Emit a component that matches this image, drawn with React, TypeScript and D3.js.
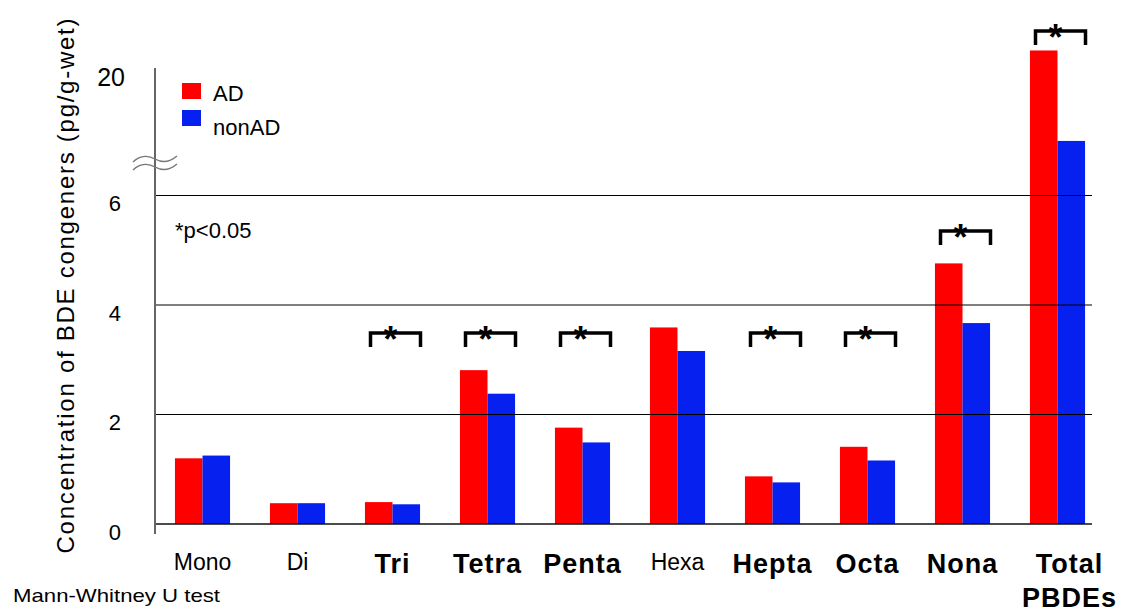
import React from 'react';
import * as d3 from 'd3';

// BDE congener concentrations, AD vs nonAD (pg/g-wet)
const categories = ['Mono', 'Di', 'Tri', 'Tetra', 'Penta', 'Hexa', 'Hepta', 'Octa', 'Nona', 'Total PBDEs'];
const seriesNames = ['AD', 'nonAD'];
const adValues = [1.2, 0.38, 0.4, 2.81, 1.76, 3.59, 0.87, 1.41, 4.76, 21.6];
const nonAdValues = [1.25, 0.38, 0.36, 2.38, 1.49, 3.16, 0.76, 1.16, 3.67, 15.7];
const significant = ['Tri', 'Tetra', 'Penta', 'Hepta', 'Octa', 'Nona', 'Total PBDEs'];
const bracketLevels = [3.49, 3.49, 3.49, 3.49, 3.49, 5.35, 22.87];
const yTicks = [0, 2, 4, 6, 20];
const gridValues = [2, 4, 6];

const colors: Record<string, string> = { AD: '#ff0000', nonAD: '#0620f0' };
const font = '"Liberation Sans", Arial, sans-serif';

const W = 1123;
const H = 612;
const left = 155;
const right = 1092;

export default function App() {
  // broken axis: 0-6 linear, compressed gap, then 14-20+
  const y = d3.scaleLinear().domain([0, 6, 14, 20]).range([524, 195.5, 167, 75]);
  const x0 = d3.scaleBand<string>().domain(categories).range([155, 1105]).paddingInner(0.42).paddingOuter(0.21);
  const x1 = d3.scaleBand<string>().domain(seriesNames).range([0, x0.bandwidth()]);

  const rows = categories.map((c, i) => ({ cat: c, AD: adValues[i], nonAD: nonAdValues[i] }));
  const mid = (c: string) => (x0(c) as number) + x0.bandwidth() / 2;

  return (
    <div style={{ position: 'absolute', left: 0, top: 0 }}>
      <svg width={W} height={H} style={{ display: 'block', background: '#fff' }} fontFamily={font}>
        {/* bars */}
        {rows.map((r) => (
          <g key={r.cat} transform={`translate(${x0(r.cat)},0)`}>
            {seriesNames.map((s) => {
              const v = (r as any)[s] as number;
              return (
                <rect key={s} x={x1(s)} y={y(v)} width={x1.bandwidth()} height={y(0) - y(v)} fill={colors[s]} />
              );
            })}
          </g>
        ))}

        {/* grid lines drawn over bars */}
        {gridValues.map((g) => (
          <line key={g} x1={left} x2={right} y1={y(g)} y2={y(g)} stroke="#000" strokeWidth={1.2} />
        ))}
        <line x1={left} x2={right} y1={y(0)} y2={y(0)} stroke="#111" strokeWidth={1.6} />

        {/* y axis */}
        <line x1={left} x2={left} y1={68} y2={y(0) + 10} stroke="#666" strokeWidth={2} />
        <g fill="none" stroke="#777" strokeWidth={1.4}>
          <path d="M133,162 C141,154 150,156 155,159 C162,163 170,162 177,156" />
          <path d="M133,170 C141,162 150,164 155,167 C162,171 170,170 177,164" />
        </g>
        {yTicks.map((t) => (
          <text
            key={t}
            x={t === 20 ? 125 : 121}
            y={y(t) + (t === 20 ? 2 : 8)}
            textAnchor="end"
            dominantBaseline="central"
            fontSize={t === 20 ? 25 : 22}
            fill="#000"
          >
            {t}
          </text>
        ))}
        <text
          transform="translate(74,286) rotate(-90)"
          textAnchor="middle"
          fontSize={24}
          textLength={535}
          lengthAdjust="spacing"
          fill="#000"
        >
          Concentration of BDE congeners (pg/g-wet)
        </text>

        {/* x labels */}
        {categories.map((c) => {
          const bold = significant.includes(c);
          const words = c.split(' ');
          const cx = mid(c) + (words.length > 1 ? 12 : 0);
          return (
            <text
              key={c}
              x={cx}
              y={bold ? 573 : 570}
              textAnchor="middle"
              fontSize={bold ? 27 : 23}
              fontWeight={bold ? 'bold' : 'normal'}
              letterSpacing={bold ? 1 : 0}
              fill="#000"
            >
              {words.map((w, i) => (
                <tspan key={w} x={cx} dy={i === 0 ? 0 : 34}>
                  {w}
                </tspan>
              ))}
            </text>
          );
        })}

        {/* significance brackets */}
        {significant.map((c, i) => {
          const cx = mid(c) + 3;
          const ty = y(bracketLevels[i]);
          return (
            <g key={c}>
              <path
                d={`M${cx - 25},${ty + 14} V${ty} H${cx + 25} V${ty + 14}`}
                fill="none"
                stroke="#000"
                strokeWidth={3.5}
              />
              <text x={cx - 5} y={ty + 19} textAnchor="middle" fontSize={36} fontWeight="bold" fill="#000">
                *
              </text>
            </g>
          );
        })}

        {/* legend */}
        {seriesNames.map((s, i) => (
          <g key={s}>
            <rect x={182} y={83 + i * 27} width={19} height={16} fill={colors[s]} />
            <text x={213} y={101 + i * 34} fontSize={22} fill="#000">
              {s}
            </text>
          </g>
        ))}
        <text x={175} y={238} fontSize={22} fill="#000">
          *p&lt;0.05
        </text>
        <text x={13} y={602} fontSize={19} textLength={207} lengthAdjust="spacingAndGlyphs" fill="#000">
          Mann-Whitney U test
        </text>
      </svg>
    </div>
  );
}
